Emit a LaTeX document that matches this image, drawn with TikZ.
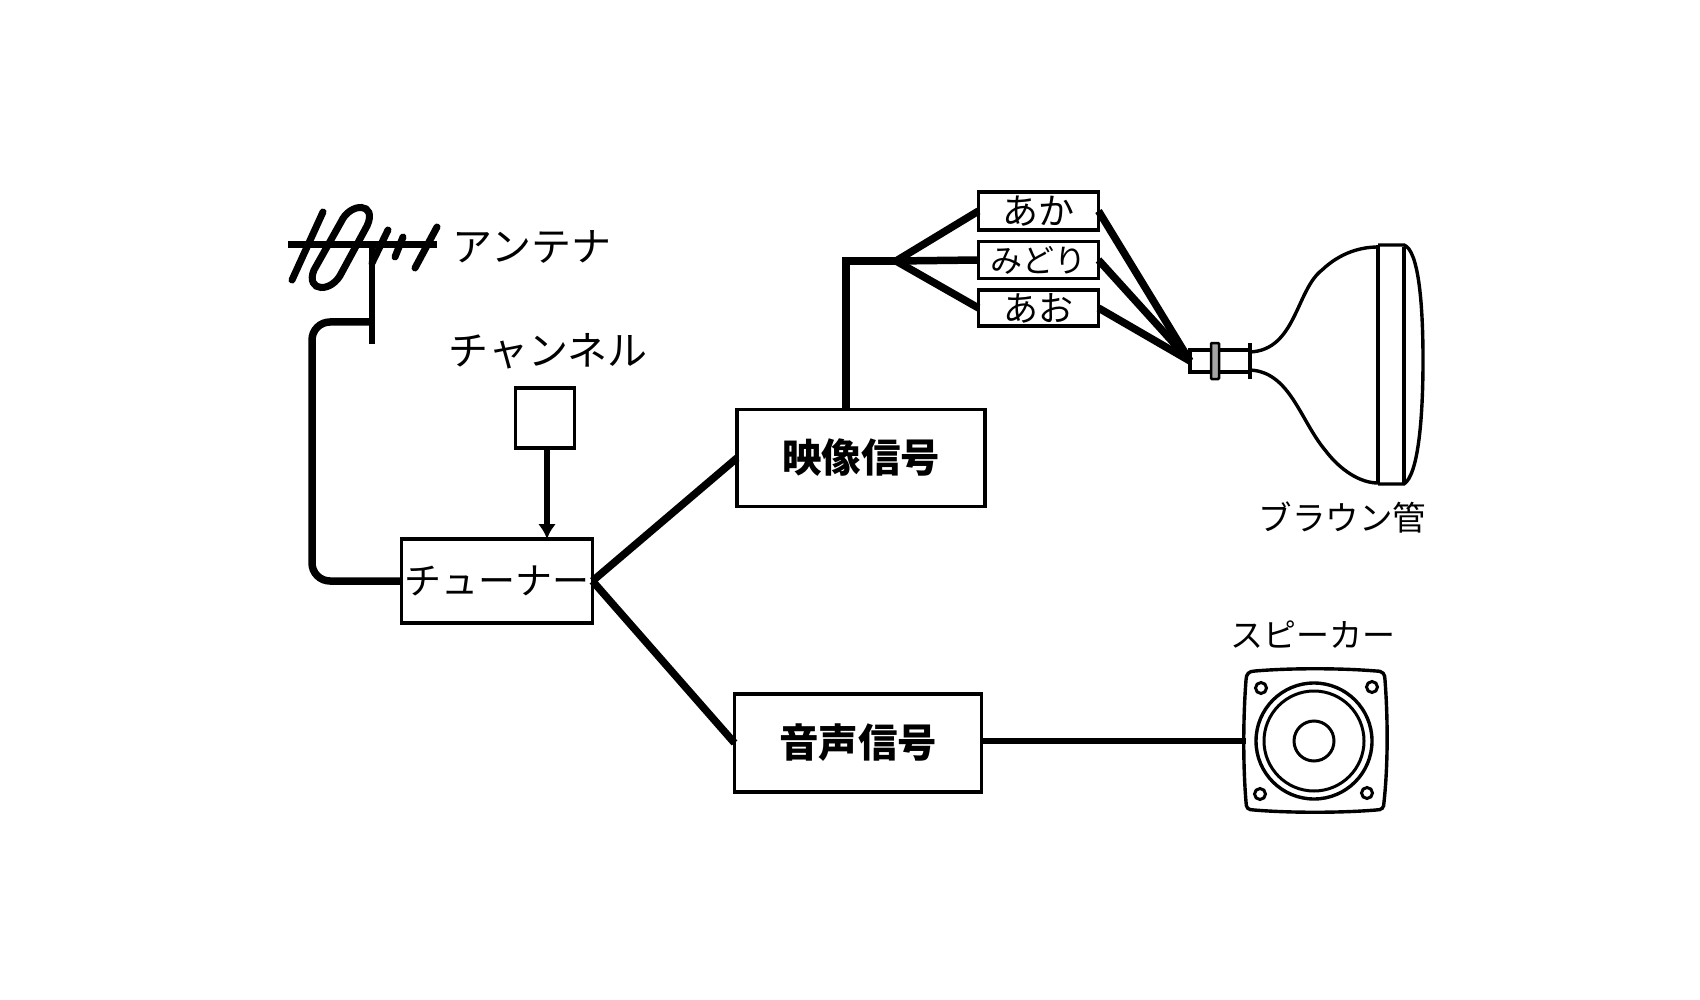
\documentclass[tikz,border=0pt]{standalone}
\usepackage{fontspec}
\usetikzlibrary{arrows.meta}
\setmainfont{Noto Sans CJK JP}
\tikzset{
  blockbox/.style={draw=black,line width=3.8pt,fill=white,inner sep=0pt,outer sep=0pt},
  lbl/.style={inner sep=0pt,text=black},
  wire/.style={draw=black,line width=7.5pt,line cap=butt},
  curveline/.style={draw=black,line width=3.4pt},
  ant/.style={draw=black,line width=7pt,line cap=round},
  hole/.style={circle,draw=black,line width=3pt,minimum size=11pt,inner sep=0pt,outer sep=0pt}
}
\begin{document}
\begin{tikzpicture}[x=1pt,y=-1pt]
\useasboundingbox[fill=white] (0,0) rectangle (1700,1000);
% blocks
\node[blockbox,minimum width=191pt,minimum height=84pt,font=\fontsize{37}{37}\selectfont] (tuner) at (497,581) {チューナー};
\node[blockbox,minimum width=248pt,minimum height=97pt,font=\fontsize{39.5}{39.5}\selectfont\bfseries] (video) at (861,458) {映像信号};
\node[blockbox,minimum width=247pt,minimum height=98pt,font=\fontsize{39.5}{39.5}\selectfont\bfseries] (audio) at (858,743) {音声信号};
\node[blockbox,minimum width=59pt,minimum height=60pt] (chan) at (545,418) {};
\node[blockbox,minimum width=120pt,minimum height=38pt,font=\fontsize{36}{36}\selectfont] (red) at (1038.5,211) {あか\hspace{10pt}};
\node[blockbox,minimum width=120pt,minimum height=37pt,font=\fontsize{32}{32}\selectfont] (green) at (1038.5,260) {みどり};
\node[blockbox,minimum width=120pt,minimum height=36pt,font=\fontsize{35}{35}\selectfont] (blue) at (1038.5,308) {あお};
% labels
\node[lbl,font=\fontsize{40}{40}\selectfont] (lant) at (532,247) {アンテナ};
\node[lbl,font=\fontsize{40}{40}\selectfont] (lchan) at (548,351) {チャンネル};
\node[lbl,font=\fontsize{33.5}{33.5}\selectfont] (lcrt) at (1342.5,517) {ブラウン管};
\node[lbl,font=\fontsize{33}{33}\selectfont] (lspk) at (1313,635) {スピーカー};
% junctions
\coordinate (mastTop) at (372,245);
\coordinate (mastBot) at (372,344);
\coordinate (mastJoin) at (372,322);
\coordinate (hub) at (896,261);
\coordinate (hubL) at (846,261);
\coordinate (gun) at (1190,361);
\coordinate (wireCorner) at (312,322);
% CRT
\node[draw=black,line width=3.4pt,minimum width=60pt,minimum height=22pt,inner sep=0pt,outer sep=0pt] (neck) at (1220,361) {};
\node[draw=black,fill=gray!70,line width=2.5pt,minimum width=8pt,minimum height=36pt,inner sep=0pt,outer sep=0pt,rounded corners=1pt] (collar) at (1215,361) {};
\draw[curveline] (1250,343) -- (1250,379);
\draw[curveline] (1250,352) .. controls (1296,350) and (1296,290) .. (1322,270) .. controls (1340,253) and (1360,247) .. (1378,247);
\draw[curveline] (1250,370) .. controls (1290,372) and (1300,420) .. (1325,450) .. controls (1340,470) and (1360,483) .. (1378,483);
\draw[line width=4.4pt] (1378,245) -- (1378,484);
\draw[curveline] (1404,247) -- (1404,483);
\draw[curveline] (1378,245) -- (1404,245) .. controls (1418,250) and (1423,300) .. (1423,360) .. controls (1423,420) and (1418,475) .. (1404,484) -- (1378,484);
% speaker
\draw[line width=3.4pt] (1255,671) .. controls (1290,668) and (1340,668) .. (1376,671) .. controls (1383,671) and (1385,674) .. (1385,680) .. controls (1388,720) and (1388,765) .. (1384,802) .. controls (1384,808) and (1382,810) .. (1376,810) .. controls (1340,813) and (1290,813) .. (1254,810) .. controls (1248,810) and (1246,808) .. (1246,802) .. controls (1243,765) and (1243,720) .. (1246,680) .. controls (1246,674) and (1249,671) .. (1255,671) -- cycle;
\node[hole] (h1) at (1261,688) {};
\node[hole] (h2) at (1372,687) {};
\node[hole] (h3) at (1260,794) {};
\node[hole] (h4) at (1367,793) {};
\node[circle,draw=black,line width=3.4pt,minimum size=116pt,inner sep=0pt,outer sep=0pt] (speaker) at (1314,741) {};
\node[circle,draw=black,line width=3pt,minimum size=100pt,inner sep=0pt,outer sep=0pt] (cone) at (1314,741) {};
\node[circle,draw=black,line width=3pt,minimum size=40pt,inner sep=0pt,outer sep=0pt] (cap) at (1314,741) {};
\coordinate (spkW) at (1246,741);
% antenna
\draw[ant,line cap=butt] (288,245) -- (437,245);
\draw[ant] (323,212) -- (292,280);
\draw[ant] (341,222) -- (314,270) .. controls (305,292) and (332,294) .. (342,272) -- (367,226) .. controls (378,202) and (350,202) .. (341,222);
\draw[ant] (388,230) -- (372,263);
\draw[ant] (403,237) -- (395,257);
\draw[ant] (437,227) -- (415,268);
\draw[ant,line width=6pt,line cap=butt] (mastTop) -- (mastBot);
% connectors
\draw[wire,rounded corners=18pt] (mastJoin) -- (wireCorner) -- (wireCorner |- tuner.west) -- (tuner.west);
\draw[wire,line width=6pt,-{Latex[length=15pt,width=18pt]}] ([xshift=2pt]chan.south) -- ([xshift=2pt]chan.south |- tuner.north);
\draw[wire] (tuner.east) -- (video.west);
\draw[wire] (tuner.east) -- (audio.west);
\draw[wire,line width=6.5pt] (audio.east |- spkW) -- (spkW);
\draw[wire] (hubL |- video.north) -- (hubL) -- (hub);
\draw[wire] (hub) -- (red.west);
\draw[wire] (hub) -- (green.west);
\draw[wire] (hub) -- (blue.west);
\draw[wire] (red.east) -- (gun);
\draw[wire] (green.east) -- (gun);
\draw[wire] (blue.east) -- (gun);
\end{tikzpicture}
\end{document}
